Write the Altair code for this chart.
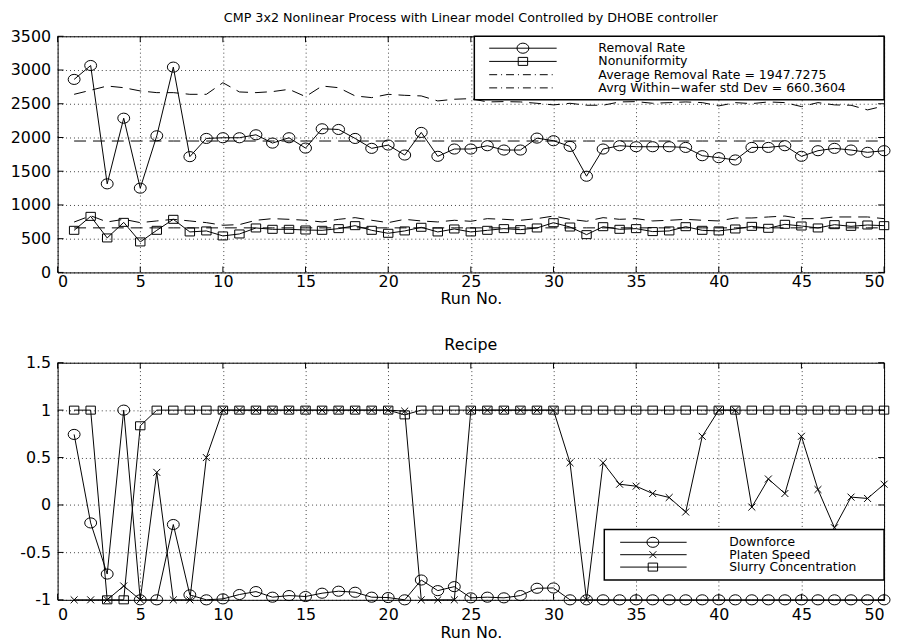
import altair as alt
import pandas as pd

FONT = "DejaVu Sans"

runs = list(range(1, 51))

removal_rate = [2861, 3067, 1313, 2286, 1249, 2025, 3043, 1716, 1986, 1996,
                1996, 2040, 1917, 1996, 1843, 2129, 2119, 1986, 1839, 1888,
                1740, 2075, 1721, 1829, 1829, 1878, 1814, 1814, 1991, 1952,
                1868, 1426, 1829, 1878, 1863, 1863, 1863, 1853, 1730, 1701,
                1667, 1853, 1853, 1878, 1721, 1804, 1839, 1814, 1780, 1804]

nonuniformity = [624, 831, 511, 742, 452, 624, 787, 600, 615, 541,
                 570, 659, 639, 639, 629, 624, 649, 693, 624, 580,
                 615, 669, 600, 644, 600, 624, 649, 634, 659, 737,
                 673, 560, 678, 639, 649, 605, 615, 678, 624, 615,
                 644, 683, 654, 713, 688, 659, 708, 683, 703, 693]

rr_upper = [2640, 2700, 2763, 2738, 2690, 2665, 2665, 2640, 2640, 2812,
            2675, 2665, 2680, 2714, 2606, 2763, 2738, 2616, 2591, 2640,
            2625, 2616, 2542, 2567, 2576, 2527, 2532, 2527, 2507, 2483,
            2507, 2478, 2478, 2527, 2532, 2507, 2517, 2527, 2517, 2468,
            2517, 2502, 2527, 2517, 2458, 2517, 2483, 2478, 2409, 2468]

nu_upper = [747, 840, 748, 787, 738, 763, 787, 763, 738, 699,
            709, 773, 797, 787, 773, 748, 787, 812, 773, 738,
            787, 763, 748, 773, 758, 797, 787, 773, 797, 836,
            787, 758, 812, 787, 797, 763, 773, 787, 773, 763,
            807, 807, 822, 836, 797, 797, 822, 822, 822, 797]

avg_removal = 1947.7275
avg_std = 660.3604

downforce = [0.744, -0.189, -0.728, 1.0, -1, -1, -0.206, -0.948, -1, -0.99,
             -0.944, -0.913, -0.972, -0.955, -0.965, -0.930, -0.909, -0.920, -0.972, -0.976,
             -1, -0.791, -0.903, -0.861, -0.979, -0.972, -0.979, -0.955, -0.878, -0.875,
             -1, -1, -1, -1, -1, -1, -1, -1, -1, -1,
             -1, -1, -1, -1, -1, -1, -1, -1, -1, -1]

platen_speed = [-1, -1, -1, -0.854, -1, 0.344, -1, -1, 0.5, 1,
                1, 1, 1, 1, 1, 1, 1, 1, 1, 1,
                0.99, -1, -1, -1, 1, 1, 1, 1, 1, 1,
                0.445, -1, 0.445, 0.219, 0.198, 0.121, 0.079, -0.074, 0.724, 1,
                1, -0.022, 0.274, 0.121, 0.724, 0.163, -0.24, 0.083, 0.069, 0.219]

slurry = [1, 1, -1, -1, 0.835, 1, 1, 1, 1, 1,
          1, 1, 1, 1, 1, 1, 1, 1, 1, 1,
          0.95, 1, 1, 1, 1, 1, 1, 1, 1, 1,
          1, 1, 1, 1, 1, 1, 1, 1, 1, 1,
          1, 1, 1, 1, 1, 1, 1, 1, 1, 1]

x_ticks = list(range(0, 51, 5))
top_y_ticks = list(range(0, 3501, 500))
bot_y_ticks = [-1, -0.5, 0, 0.5, 1, 1.5]

top_title = "CMP 3x2 Nonlinear Process with Linear model Controlled by DHOBE controller"
bot_title = "Recipe"
x_title = "Run No."
top_legend = ["Removal Rate", "Nonuniformity",
              "Average Removal Rate = 1947.7275", "Avrg Within\u2212wafer std Dev = 660.3604"]
bot_legend = ["Downforce", "Platen Speed", "Slurry Concentration"]

W = 833
H_TOP = 238
H_BOT = 239

CIRCLE = "M1,0C1,0.47,0.552,0.85,0,0.85C-0.552,0.85,-1,0.47,-1,0C-1,-0.47,-0.552,-0.85,0,-0.85C0.552,-0.85,1,-0.47,1,0Z"
SQUARE = "M-1,-0.85L1,-0.85L1,0.85L-1,0.85Z"
XMARK = "M-1,-1L1,1M-1,1L1,-1"
SIZES = {CIRCLE: 144, SQUARE: 90, XMARK: 49}

one = pd.DataFrame({"k": [0]})


class Panel:
    def __init__(self, domain, ticks, h, lpad, tpad):
        self.domain, self.ticks, self.h, self.lpad, self.tpad = domain, ticks, h, lpad, tpad

    def x(self):
        return alt.X("run:Q", scale=alt.Scale(domain=[0, 50], nice=False, zero=False),
                     axis=alt.Axis(values=x_ticks, title=x_title, labelExpr="'' + datum.value",
                                   labelPadding=self.lpad, titlePadding=self.tpad))

    def y(self):
        return alt.Y("value:Q", scale=alt.Scale(domain=self.domain, nice=False, zero=False),
                     axis=alt.Axis(values=self.ticks, title=None, labelExpr="'' + datum.value"))

    def series(self, vals, shape=None, dash=None):
        df = pd.DataFrame({"run": runs[:len(vals)], "value": vals})
        kw = {"color": "black", "strokeWidth": 1}
        if dash:
            kw["strokeDash"] = dash
        layers = [alt.Chart(df).mark_line(**kw).encode(x=self.x(), y=self.y())]
        if shape:
            layers.append(alt.Chart(df).mark_point(shape=shape, size=SIZES[shape], filled=False,
                                                   color="black", strokeWidth=1, opacity=1)
                          .encode(x=self.x(), y=self.y()))
        return layers

    def inner_ticks(self):
        xt = pd.DataFrame({"run": x_ticks})
        yt = pd.DataFrame({"value": self.ticks})
        k = dict(color="black", strokeWidth=1)
        h = self.h
        return [
            alt.Chart(xt).mark_rule(**k).encode(x=self.x(), y=alt.value(0), y2=alt.value(6)),
            alt.Chart(xt).mark_rule(**k).encode(x=self.x(), y=alt.value(h), y2=alt.value(h - 6)),
            alt.Chart(yt).mark_rule(**k).encode(y=self.y(), x=alt.value(0), x2=alt.value(6)),
            alt.Chart(yt).mark_rule(**k).encode(y=self.y(), x=alt.value(W - 6), x2=alt.value(W)),
        ]


def legend(box, rows, x1, x2, xm, tx, entries, fs):
    layers = [alt.Chart(one).mark_rect(fill="white", stroke="black", strokeWidth=1.5)
              .encode(x=alt.value(box[0]), x2=alt.value(box[1]), y=alt.value(box[2]), y2=alt.value(box[3]))]
    for y, (text, shape, dash) in zip(rows, entries):
        kw = {"color": "black", "strokeWidth": 1}
        if dash:
            kw["strokeDash"] = dash
        layers.append(alt.Chart(one).mark_rule(**kw)
                      .encode(x=alt.value(x1), x2=alt.value(x2), y=alt.value(y)))
        if shape:
            layers.append(alt.Chart(one).mark_point(shape=shape, size=SIZES[shape], filled=False,
                                                    color="black", strokeWidth=1, opacity=1)
                          .encode(x=alt.value(xm), y=alt.value(y)))
        layers.append(alt.Chart(one).mark_text(text=text, align="left", baseline="middle",
                                               font=FONT, fontSize=fs, color="black")
                      .encode(x=alt.value(tx), y=alt.value(y)))
    return layers


DASH = [12, 7]
DASHDOT = [8, 4, 1, 4]

tp = Panel([0, 3500], top_y_ticks, H_TOP, 1, 1)
top_layers = []
top_layers += tp.series(rr_upper, dash=DASH)
top_layers += tp.series(nu_upper, dash=DASH)
top_layers += tp.series([avg_removal] * 50, dash=DASH)
top_layers += tp.series([avg_std] * 50, dash=DASH)
top_layers += tp.series(removal_rate, shape=CIRCLE)
top_layers += tp.series(nonuniformity, shape=SQUARE)
top_layers += tp.inner_ticks()
top_layers += legend((420, W, 0, 64), [12, 25.3, 38.7, 52], 435, 503, 469, 545,
                     [(top_legend[0], CIRCLE, None), (top_legend[1], SQUARE, None),
                      (top_legend[2], None, DASHDOT), (top_legend[3], None, DASHDOT)], 12.6)

top = alt.layer(*top_layers).properties(
    width=W, height=H_TOP,
    title=alt.TitleParams(top_title, offset=4, fontSize=12.8))

bp = Panel([-1, 1.5], bot_y_ticks, H_BOT, 7, 2)
bot_layers = []
bot_layers += bp.series(downforce, shape=CIRCLE)
bot_layers += bp.series(platen_speed, shape=XMARK)
bot_layers += bp.series(slurry, shape=SQUARE)
bot_layers += bp.inner_ticks()
bot_layers += legend((551, W, 168, 219), [181, 193.5, 206], 567, 634, 600, 677,
                     [(bot_legend[0], CIRCLE, None), (bot_legend[1], XMARK, None),
                      (bot_legend[2], SQUARE, None)], 12.4)

bottom = alt.layer(*bot_layers).properties(
    width=W, height=H_BOT,
    title=alt.TitleParams(bot_title, offset=2, fontSize=16))

chart = (
    alt.vconcat(top, bottom, spacing=29)
    .properties(padding={"left": 1, "top": 0, "right": 0, "bottom": 0}, background="white")
    .configure_view(stroke="black", strokeWidth=1)
    .configure_axis(domain=False, ticks=False, grid=True, gridDash=[1, 3], gridColor="black",
                    gridOpacity=0.75, labelFont=FONT, labelFontSize=16, labelColor="black",
                    titleFont=FONT, titleFontSize=16, titleFontWeight="normal", titleColor="black")
    .configure_axisY(labelPadding=7)
    .configure_title(font=FONT, fontWeight="normal", color="black", anchor="middle")
)

chart.save("out.html", embed_options={"renderer": "svg", "actions": False})
